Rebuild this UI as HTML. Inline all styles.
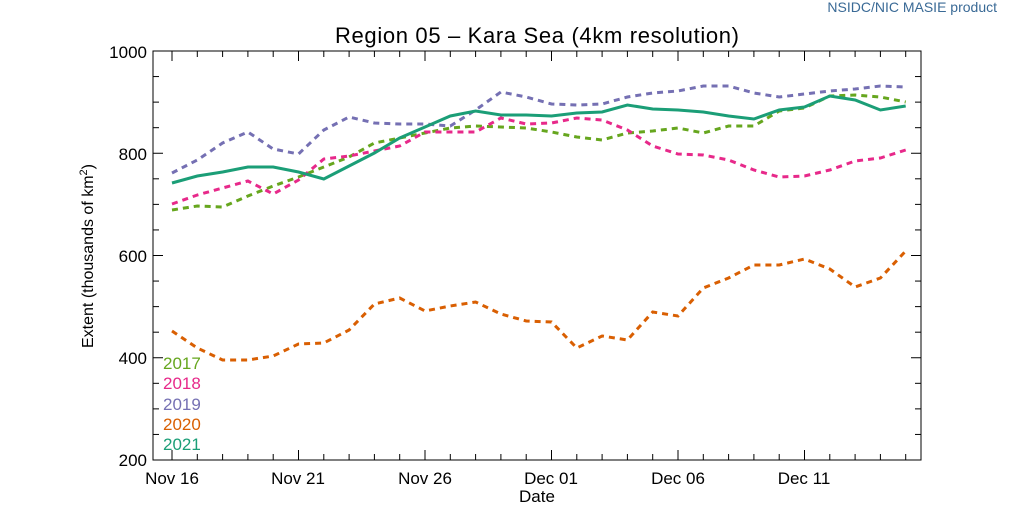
<!DOCTYPE html>
<html><head><meta charset="utf-8"><style>
body{margin:0;background:#fff}
svg{display:block;font-family:"Liberation Sans",sans-serif}
</style></head><body>
<svg id="s" width="1024" height="512" xmlns="http://www.w3.org/2000/svg">
<rect width="1024" height="512" fill="#fff"/>
<text x="997" y="12" font-size="14" fill="#3a6a96" text-anchor="end">NSIDC/NIC MASIE product</text>
<text x="537" y="43" font-size="22" text-anchor="middle" textLength="404">Region 05 – Kara Sea (4km resolution)</text>
<rect x="153" y="51" width="768" height="409" fill="none" stroke="#000" stroke-width="1"/>
<g id="ticks" stroke="#000" stroke-width="1"></g>
<g font-size="17" text-anchor="end">
<text x="147" y="58">1000</text><text x="147" y="160">800</text><text x="147" y="262">600</text><text x="147" y="364">400</text><text x="147" y="466">200</text>
</g>
<g font-size="17" text-anchor="middle">
<text x="172" y="484">Nov 16</text><text x="298" y="484">Nov 21</text><text x="425" y="484">Nov 26</text><text x="551" y="484">Dec 01</text><text x="678" y="484">Dec 06</text><text x="804" y="484">Dec 11</text>
<text x="537" y="502">Date</text>
</g>
<text transform="translate(93,256) rotate(-90)" font-size="16" text-anchor="middle">Extent (thousands of km<tspan font-size="11" dy="-6">2</tspan><tspan dy="6">)</tspan></text>
<g id="lines" fill="none" stroke-width="3"></g>
<g font-size="17">
<text x="163" y="369" fill="#66a61e">2017</text>
<text x="163" y="389" fill="#e7298a">2018</text>
<text x="163" y="410" fill="#7570b3">2019</text>
<text x="163" y="430" fill="#d95f02">2020</text>
<text x="163" y="450" fill="#1b9e77">2021</text>
</g>
</svg>
<script>
var NS="http://www.w3.org/2000/svg";
function el(p,t,a){var e=document.createElementNS(NS,t);for(var k in a)e.setAttribute(k,a[k]);p.appendChild(e);return e;}
var T=document.getElementById('ticks');
for(var d=0;d<30;d++){var x=172+d*25.3;var L=(d%5==0)?10:6;
el(T,'line',{x1:x,x2:x,y1:460,y2:460-L});el(T,'line',{x1:x,x2:x,y1:51,y2:51+L});}
for(var v=200;v<=1000;v+=50){var y=460-(v-200)*0.51125;var L=(v%200==0)?10:6;
el(T,'line',{x1:153,x2:153+L,y1:y,y2:y});el(T,'line',{x1:921,x2:921-L,y1:y,y2:y});}
var S=[
["#66a61e",[210,206,207,196,186,177,167,157,143,138,133,128,126,127,128,132,137,140,133,131,128,133,126,126,111,108,96,95,97,102],1],
["#e7298a",[204,195,188,181,194,180,159,156,151,146,132,132,132,118,124,123,118,120,130,146,154,155,160,170,177,176,170,161,158,150],1],
["#7570b3",[173,160,143,132,149,154,130,117,123,124,124,126,110,92,97,104,105,104,97,93,91,86,86,93,97,94,91,89,86,87],1],
["#d95f02",[331,348,360,360,356,344,343,330,304,298,311,306,302,314,321,322,348,336,340,312,316,288,278,265,265,259,269,287,278,251],1],
["#1b9e77",[183,176,172,167,167,172,179,166,153,138,127,116,111,115,115,116,113,112,105,109,110,112,116,119,110,107,96,100,110,106],0]];
var G=document.getElementById('lines');
S.forEach(function(s){var p=s[1].map(function(y,i){return (172+i*25.3).toFixed(1)+","+y;}).join(" ");
var a={points:p,stroke:s[0]};if(s[2])a['stroke-dasharray']="6,5";el(G,'polyline',a);});
</script>
</body></html>
